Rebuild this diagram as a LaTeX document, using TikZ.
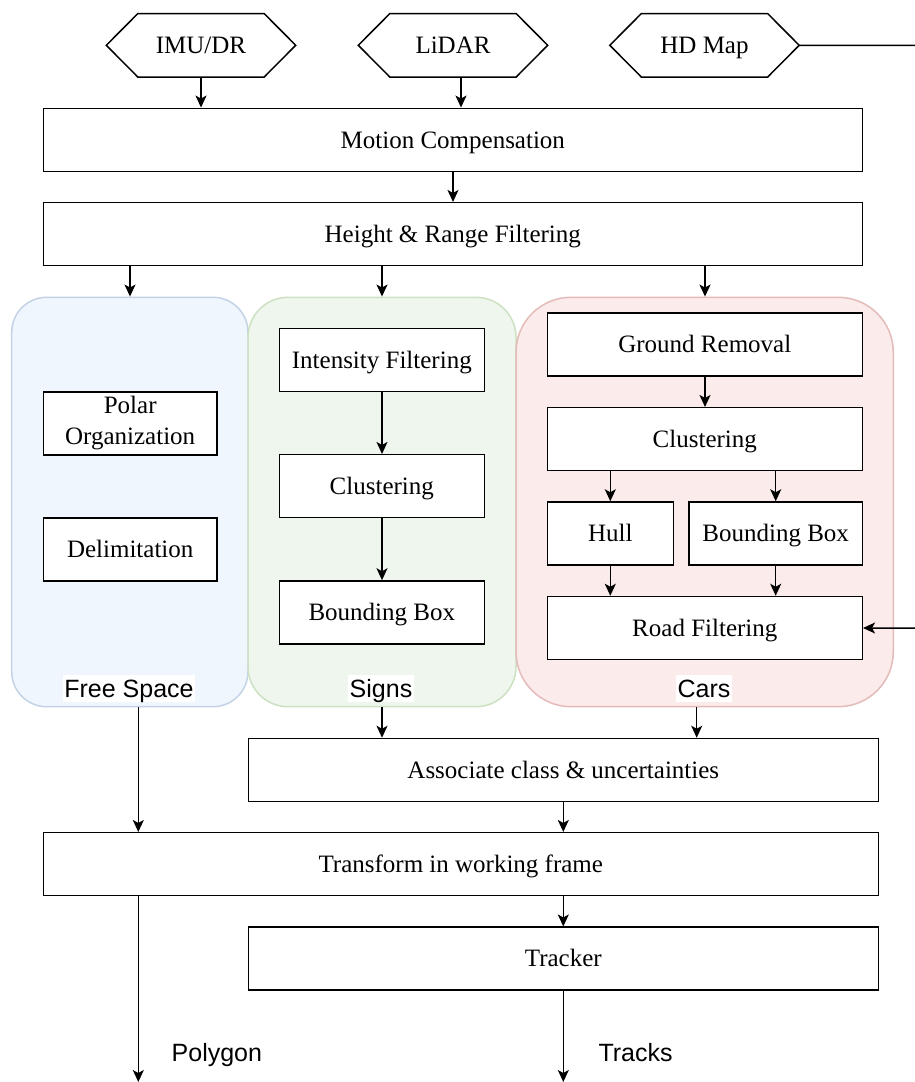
\documentclass[tikz,border=0pt]{standalone}
\usepackage{fontspec}
\setmainfont{Liberation Serif}
\newfontfamily\labelsans{Liberation Sans}
\usetikzlibrary{arrows.meta,calc}
\definecolor{fsfill}{RGB}{240,246,254}
\definecolor{fsline}{RGB}{196,210,229}
\definecolor{sgfill}{RGB}{238,246,238}
\definecolor{sgline}{RGB}{205,225,194}
\definecolor{crfill}{RGB}{252,235,235}
\definecolor{crline}{RGB}{227,187,185}
\begin{document}
\begin{tikzpicture}[x=1pt,y=-1pt,
  boxbase/.style={draw, line width=1.5pt, fill=white, minimum height=63pt, inner sep=0pt, align=center, font=\fontsize{25}{31}\selectfont},
  box/.style={boxbase, text height=19pt, text depth=2.5pt},
  hexnode/.style={draw=none, minimum width=126pt, minimum height=63pt, inner sep=0pt, text height=19pt, text depth=2.5pt, font=\fontsize{25}{31}\selectfont},
  hexline/.style={line width=1.5pt},
  grp/.style={line width=1.5pt, minimum height=409.4pt, inner sep=0pt},
  grplabel/.style={fill=white, inner sep=1.5pt, text height=21pt, text depth=3pt, font=\labelsans\fontsize{25}{30}\selectfont},
  outlabel/.style={inner sep=0pt, text height=21pt, text depth=3pt, font=\labelsans\fontsize{25}{30}\selectfont},
  arr/.style={line width=1.5pt, -{Stealth[length=12pt,width=11pt,inset=3pt]}}
]
\useasboundingbox (0,0) rectangle (914,1082);

% helper x positions
\coordinate (xlidar) at (461,0);
\coordinate (xfs) at (130,0);
\coordinate (xsg) at (382,0);
\coordinate (xcr) at (705,0);
\coordinate (xfsout) at (138.3,0);
\coordinate (xcrout) at (696.7,0);
\coordinate (xhull) at (610.3,0);
\coordinate (xcbb) at (775.7,0);
\coordinate (xmid) at (563.3,0);
\coordinate (xmot) at (453,0);
\coordinate (edge) at (917,0);
\coordinate (bottom) at (0,1082);

% input hexagons
\node[hexnode] (imu) at (201,45.3) {IMU/DR};
\node[hexnode] (lidar) at (453,45.3) {LiDAR};
\node[hexnode] (hd) at (704.5,45.3) {HD Map};
\foreach \h in {imu,lidar,hd}{
  \draw[hexline] (\h.north west) -- (\h.north east) -- ([xshift=31.5pt]\h.east) -- (\h.south east) -- (\h.south west) -- ([xshift=-31.5pt]\h.west) -- cycle;
}

% main boxes
\node[box, minimum width=819pt] (motion) at (452.8,139.8) {Motion Compensation};
\node[box, minimum width=819pt] (height) at (452.8,234.2) {Height \& Range Filtering};

% groups
\node[grp, draw=fsline, fill=fsfill, rounded corners=35pt, minimum width=236.3pt] (free) at (129.85,502) {};
\node[grp, draw=sgline, fill=sgfill, rounded corners=40pt, minimum width=268pt] (signs) at (382,502) {};
\node[grp, draw=crline, fill=crfill, rounded corners=55pt, minimum width=377.3pt] (cars) at (704.65,502) {};
\node[grplabel] (freelbl) at (129,688) {Free Space};
\node[grplabel] (signslbl) at (381,688) {Signs};
\node[grplabel] (carslbl) at (704,688) {Cars};

% free space
\node[boxbase, minimum width=173.7pt] (polar) at (130.2,423.3) {Polar\\Organization};
\node[box, minimum width=173.7pt] (delim) at (130.2,549.3) {Delimitation};

% signs
\node[box, minimum width=205pt] (intens) at (381.8,360.2) {Intensity Filtering};
\node[box, minimum width=205pt] (sclust) at (381.8,486.2) {Clustering};
\node[box, minimum width=205pt] (sbbox) at (381.8,612.5) {Bounding Box};

% cars
\node[box, minimum width=315pt] (ground) at (704.8,344.7) {Ground Removal};
\node[box, minimum width=315pt] (cclust) at (704.8,439.2) {Clustering};
\node[box, minimum width=126pt] (hull) at (610.3,533.5) {Hull};
\node[box, minimum width=173.3pt] (cbbox) at (775.65,533.5) {Bounding Box};
\node[box, minimum width=315pt] (road) at (704.8,628) {Road Filtering};

% lower boxes
\node[box, minimum width=630pt] (assoc) at (563.3,770) {Associate class \& uncertainties};
\node[box, minimum width=835pt] (transform) at (460.8,864.2) {Transform in working frame};
\node[box, minimum width=630pt] (tracker) at (563.3,958.7) {Tracker};

% outputs labels
\node[outlabel, anchor=west] (polygon) at (171.5,1052) {Polygon};
\node[outlabel, anchor=west] (tracks) at (598.3,1052) {Tracks};

% connectors
\draw[arr] (imu.south) -- (imu.south |- motion.north);
\draw[arr] (lidar.south -| xlidar) -- (motion.north -| xlidar);
\draw[arr] (motion.south -| xmot) -- (height.north -| xmot);
\draw[arr] (height.south -| xfs) -- (free.north -| xfs);
\draw[arr] (height.south -| xsg) -- (signs.north -| xsg);
\draw[arr] (height.south -| xcr) -- (cars.north -| xcr);

\draw[arr] (intens.south -| xsg) -- (sclust.north -| xsg);
\draw[arr] (sclust.south -| xsg) -- (sbbox.north -| xsg);

\draw[arr] (ground.south -| xcr) -- (cclust.north -| xcr);
\draw[arr] (cclust.south -| xhull) -- (hull.north -| xhull);
\draw[arr] (cclust.south -| xcbb) -- (cbbox.north -| xcbb);
\draw[arr] (hull.south -| xhull) -- (road.north -| xhull);
\draw[arr] (cbbox.south -| xcbb) -- (road.north -| xcbb);

\draw[arr] ([xshift=31.5pt]hd.east) -- ([xshift=31.5pt]hd.east -| edge) -- (road.east -| edge) -- (road.east);

\draw[arr] (free.south -| xfsout) -- (transform.north -| xfsout);
\draw[arr] (signs.south -| xsg) -- (assoc.north -| xsg);
\draw[arr] (cars.south -| xcrout) -- (assoc.north -| xcrout);
\draw[arr] (assoc.south -| xmid) -- (transform.north -| xmid);
\draw[arr] (transform.south -| xmid) -- (tracker.north -| xmid);
\draw[arr] (transform.south -| xfsout) -- (bottom -| xfsout);
\draw[arr] (tracker.south -| xmid) -- (bottom -| xmid);
\end{tikzpicture}
\end{document}
